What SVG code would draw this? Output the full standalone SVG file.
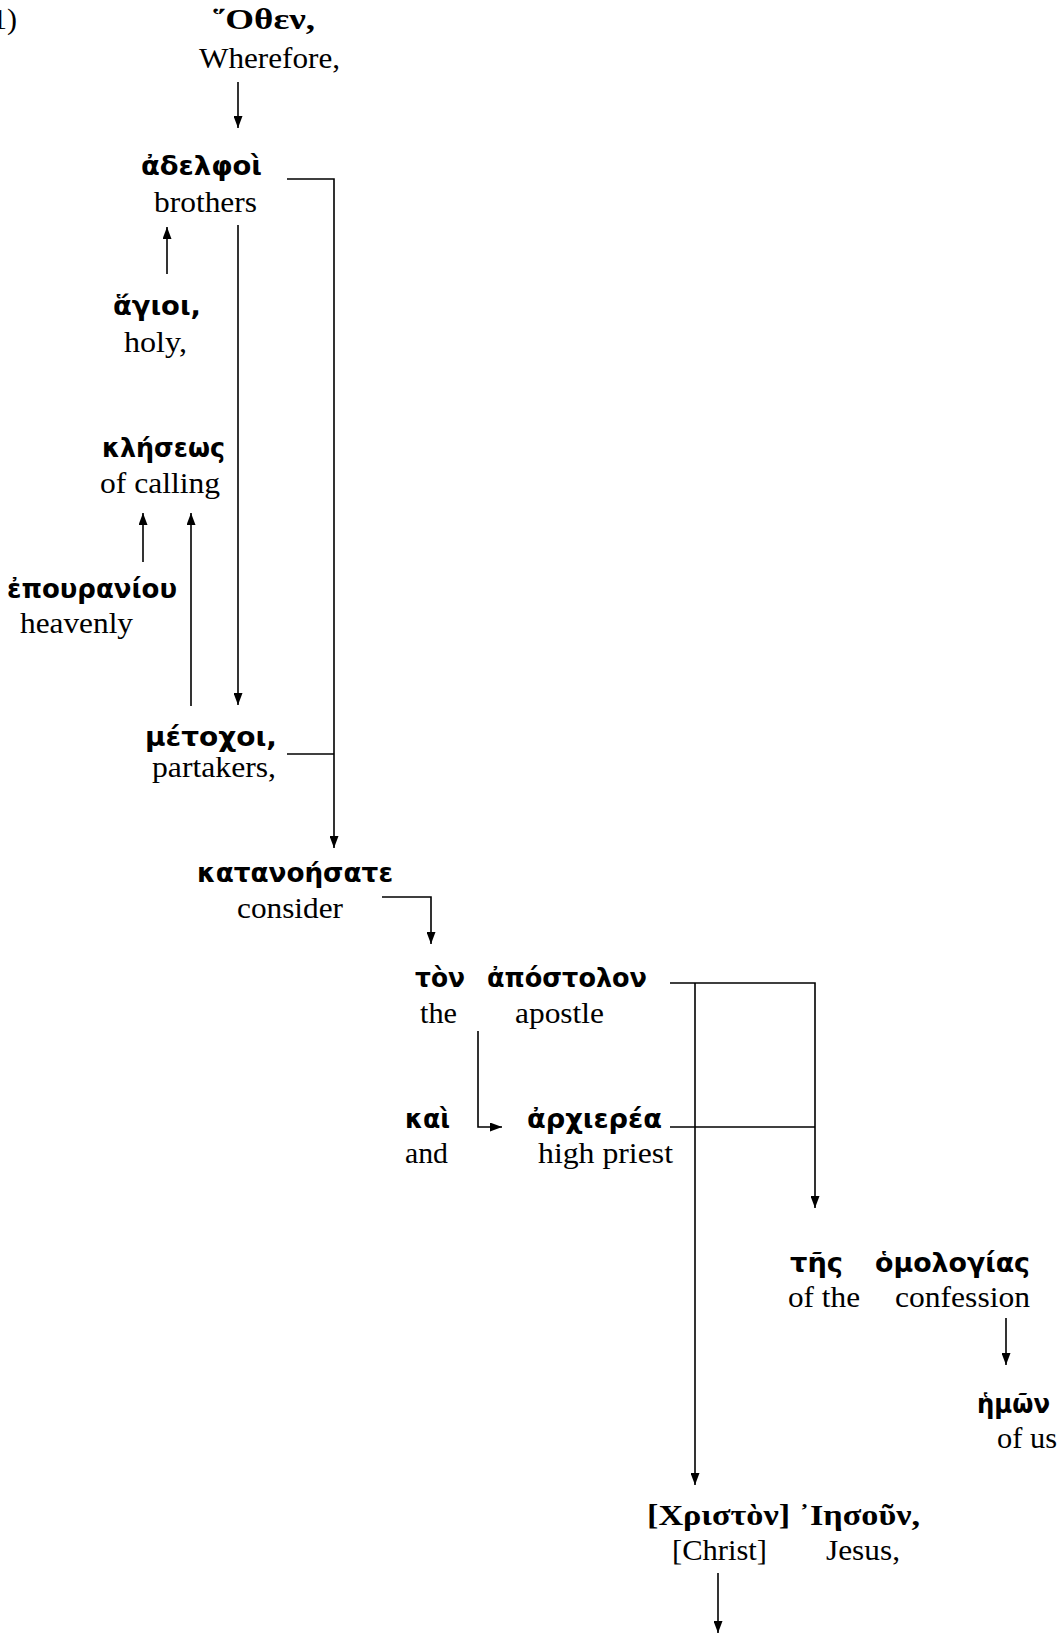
<svg xmlns="http://www.w3.org/2000/svg" width="1061" height="1634" viewBox="0 0 1061 1634">
<defs>
<marker id="ah" markerWidth="12" markerHeight="9" refX="12" refY="4.5" orient="auto" markerUnits="userSpaceOnUse"><path d="M0,0 L12,4.5 L0,9 z" fill="#000"/></marker>
</defs>
<style>
.g{font-family:"DejaVu Sans",sans-serif;font-weight:bold;font-size:27px;fill:#000}
.gs{font-family:"Liberation Serif","DejaVu Serif",serif;font-weight:bold;font-size:30px;fill:#000}
.e{font-family:"Liberation Serif",serif;font-size:30px;fill:#000}
.c{fill:none;stroke:#000;stroke-width:1.6}
.a{marker-end:url(#ah)}
</style>
<rect width="1061" height="1634" fill="#fff"/>
<text class="e" x="-8" y="29">1)</text>
<g id="n-hothen"><text class="gs" x="213" y="29" textLength="102" lengthAdjust="spacingAndGlyphs">῞Οθεν,</text><text class="e" x="199" y="68" textLength="141" lengthAdjust="spacingAndGlyphs">Wherefore,</text></g>
<g id="n-adelphoi"><text class="g" x="141" y="175" textLength="121" lengthAdjust="spacingAndGlyphs">ἀδελφοὶ</text><text class="e" x="154" y="212" textLength="103" lengthAdjust="spacingAndGlyphs">brothers</text></g>
<g id="n-hagioi"><text class="g" x="113" y="315" textLength="88" lengthAdjust="spacingAndGlyphs">ἅγιοι,</text><text class="e" x="124" y="352" textLength="63" lengthAdjust="spacingAndGlyphs">holy,</text></g>
<g id="n-kleseos"><text class="g" x="102" y="457" textLength="123" lengthAdjust="spacingAndGlyphs">κλήσεως</text><text class="e" x="100" y="493" textLength="120" lengthAdjust="spacingAndGlyphs">of calling</text></g>
<g id="n-epouraniou"><text class="g" x="7" y="598" textLength="170" lengthAdjust="spacingAndGlyphs">ἐπουρανίου</text><text class="e" x="20" y="633" textLength="113" lengthAdjust="spacingAndGlyphs">heavenly</text></g>
<g id="n-metochoi"><text class="g" x="145" y="746" textLength="132" lengthAdjust="spacingAndGlyphs">μέτοχοι,</text><text class="e" x="152" y="777" textLength="124" lengthAdjust="spacingAndGlyphs">partakers,</text></g>
<g id="n-katanoesate"><text class="g" x="197" y="882" textLength="196" lengthAdjust="spacingAndGlyphs">κατανοήσατε</text><text class="e" x="237" y="918" textLength="106" lengthAdjust="spacingAndGlyphs">consider</text></g>
<g id="n-ton-apostolon"><text class="g" x="415" y="987" textLength="50" lengthAdjust="spacingAndGlyphs">τὸν</text><text class="g" x="487" y="987" textLength="160" lengthAdjust="spacingAndGlyphs">ἀπόστολον</text><text class="e" x="420" y="1023" textLength="37" lengthAdjust="spacingAndGlyphs">the</text><text class="e" x="515" y="1023" textLength="89" lengthAdjust="spacingAndGlyphs">apostle</text></g>
<g id="n-kai"><text class="g" x="405" y="1128" textLength="45" lengthAdjust="spacingAndGlyphs">καὶ</text><text class="e" x="405" y="1163" textLength="43" lengthAdjust="spacingAndGlyphs">and</text></g>
<g id="n-archierea"><text class="g" x="527" y="1128" textLength="135" lengthAdjust="spacingAndGlyphs">ἀρχιερέα</text><text class="e" x="538" y="1163" textLength="135" lengthAdjust="spacingAndGlyphs">high priest</text></g>
<g id="n-homologias"><text class="g" x="790" y="1272" textLength="53" lengthAdjust="spacingAndGlyphs">τῆς</text><text class="g" x="875" y="1272" textLength="155" lengthAdjust="spacingAndGlyphs">ὁμολογίας</text><text class="e" x="788" y="1307" textLength="72" lengthAdjust="spacingAndGlyphs">of the</text><text class="e" x="895" y="1307" textLength="135" lengthAdjust="spacingAndGlyphs">confession</text></g>
<g id="n-hemon"><text class="g" x="977" y="1413" textLength="73" lengthAdjust="spacingAndGlyphs">ἡμῶν</text><text class="e" x="997" y="1448" textLength="60" lengthAdjust="spacingAndGlyphs">of us</text></g>
<g id="n-iesoun"><text class="gs" x="647" y="1525" textLength="273" lengthAdjust="spacingAndGlyphs">[Χριστὸν] ᾿Ιησοῦν,</text><text class="e" x="672" y="1560" textLength="95" lengthAdjust="spacingAndGlyphs">[Christ]</text><text class="e" x="826" y="1560" textLength="74" lengthAdjust="spacingAndGlyphs">Jesus,</text></g>
<g id="connectors">
<path class="c a" d="M238,82 V128"/>
<path class="c a" d="M287,179 H334 V848"/>
<path class="c" d="M287,754 H334"/>
<path class="c a" d="M167,274 V227"/>
<path class="c a" d="M238,225 V705"/>
<path class="c a" d="M143,562 V513"/>
<path class="c a" d="M191,706 V513"/>
<path class="c a" d="M382,897 H431 V944"/>
<path class="c a" d="M478,1031 V1127 H502"/>
<path class="c a" d="M670,983 H815 V1208"/>
<path class="c" d="M670,1127 H815"/>
<path class="c a" d="M695,983 V1485"/>
<path class="c a" d="M1006,1318 V1365"/>
<path class="c a" d="M718,1573 V1633"/>
</g>
</svg>
